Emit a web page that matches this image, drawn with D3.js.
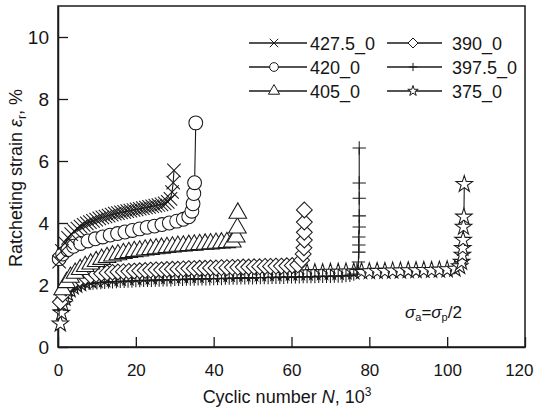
<!DOCTYPE html>
<html>
<head>
<meta charset="utf-8">
<script src="https://cdn.jsdelivr.net/npm/d3@7"></script>
<style>
  body { margin: 0; background: #fff; }
  svg { display: block; }
  text { font-family: "Liberation Sans", Arial, Helvetica, sans-serif; fill: #151515; }
</style>
</head>
<body>
<svg id="chart" width="534" height="407"></svg>
<script>
// Axis ticks
const xTicks = [0, 20, 40, 60, 80, 100, 120];
const yTicks = [0, 2, 4, 6, 8, 10];

// Cyclic number N (10^3) and ratcheting strain (%) for each loading level
const n4275 = [0.3,1.0,1.8,2.6,3.4,4.2,5.0,5.8,6.6,7.4,8.2,9.0,9.8,10.6,11.4,12.2,13.0,13.8,14.6,15.4,
  16.2,17.0,17.8,18.6,19.4,20.2,21.0,21.8,22.6,23.4,24.2,25.0,25.8,26.6,27.4,28.2,28.9,29.3,29.6,29.8];
const e4275 = [2.75,3.1,3.35,3.52,3.64,3.74,3.82,3.88,3.94,3.99,4.03,4.07,4.11,4.15,4.18,4.21,4.24,4.27,4.3,4.32,
  4.34,4.36,4.38,4.4,4.42,4.44,4.46,4.48,4.5,4.52,4.54,4.56,4.58,4.6,4.63,4.68,4.78,5.0,5.3,5.7];

const n420 = [0.3,1.2,2.5,4.0,5.8,7.7,9.6,11.5,13.4,15.3,17.2,19.1,21.0,22.9,24.8,26.7,28.6,30.5,32.2,33.6,
  34.4,34.7,34.9,35.1,35.4];
const e420 = [2.85,3.0,3.14,3.25,3.34,3.42,3.49,3.55,3.61,3.66,3.71,3.76,3.81,3.86,3.9,3.95,4.0,4.06,4.12,4.2,
  4.38,4.62,4.95,5.3,7.23];

const n405 = [1.2,2.2,3.2,4.4,5.7,7.0,8.4,9.8,11.2,12.6,14.0,15.4,16.8,18.2,19.6,21.0,22.4,23.8,25.2,26.6,
  28.0,29.4,30.8,32.2,33.6,35.0,36.4,37.8,39.2,40.6,42.0,43.4,44.8,45.8,46.1,46.2];
const e405 = [1.85,2.08,2.25,2.38,2.5,2.6,2.68,2.76,2.83,2.89,2.94,2.98,3.02,3.05,3.08,3.1,3.13,3.15,3.17,3.19,
  3.21,3.23,3.25,3.26,3.28,3.29,3.31,3.32,3.33,3.35,3.36,3.37,3.39,3.55,3.84,4.32];

const n390 = [0.6,1.2,2.0,3.0,4.2,5.6,7.0,8.4,9.8,11.2,12.6,14.0,15.4,16.8,18.2,19.6,21.0,22.4,23.8,25.2,
  26.6,28.0,29.4,30.8,32.2,33.6,35.0,36.4,37.8,39.2,40.6,42.0,43.4,44.8,46.2,47.6,49.0,50.4,51.8,53.2,
  54.6,56.0,57.4,58.8,60.2,61.6,62.6,63.0,63.2,63.3,63.3,63.3,63.3];
const e390 = [1.45,1.7,1.9,2.03,2.13,2.2,2.26,2.3,2.34,2.37,2.39,2.41,2.42,2.43,2.44,2.45,2.46,2.47,2.48,2.49,
  2.49,2.5,2.51,2.51,2.52,2.53,2.53,2.54,2.54,2.55,2.55,2.56,2.56,2.57,2.57,2.58,2.58,2.59,2.59,2.6,
  2.6,2.61,2.61,2.62,2.63,2.65,2.8,3.0,3.2,3.45,3.7,4.03,4.42];

const n3975 = [0.3,0.6,1.0,1.5,2.0,2.6,3.3,4.0,5.0,6.0,7.0,8.0,9.0,10.0,11,12,13,14,15,16,
  17,18,19,20,21,22,23,24,25,26,27,28,29,30,31,32,33,34,35,36,
  37,38,39,40,41,42,43,44,45,46,47,48,49,50,51,52,53,54,55,56,
  57,58,59,60,61,62,63,64,65,66,67,68,69,70,71,72,73,74,75,76,
  76.8,77.2,77.3,77.3,77.3,77.4,77.4,77.4,77.4,77.4];
const e3975 = [1.2,1.42,1.58,1.7,1.78,1.85,1.9,1.94,1.98,2.01,2.03,2.05,2.06,2.07,2.08,2.09,2.1,2.1,2.11,2.12,
  2.12,2.13,2.13,2.14,2.14,2.15,2.15,2.15,2.16,2.16,2.17,2.17,2.17,2.18,2.18,2.18,2.19,2.19,2.19,2.2,
  2.2,2.2,2.2,2.21,2.21,2.21,2.22,2.22,2.22,2.22,2.23,2.23,2.23,2.23,2.24,2.24,2.24,2.24,2.25,2.25,
  2.25,2.25,2.26,2.26,2.26,2.26,2.27,2.27,2.27,2.27,2.28,2.28,2.28,2.28,2.29,2.29,2.29,2.3,2.31,2.35,
  2.5,2.74,3.06,3.29,3.55,3.87,4.23,4.8,5.29,6.42];

const n375 = [0.6,0.9,1.3,1.8,2.4,3.1,3.9,4.8,5.8,7.0,8.4,10,12,14,16,18,20,22,24,26,
  28,30,32,34,36,38,40,42,44,46,48,50,52,54,56,58,60,62,64,66,
  68,70,72,74,76,78,80,82,84,86,88,90,92,94,96,98,100,102,
  103.2,103.7,103.9,104.0,104.1,104.2,104.3,104.4];
const e375 = [0.75,1.1,1.38,1.58,1.73,1.85,1.94,2.0,2.05,2.1,2.14,2.16,2.18,2.2,2.22,2.24,2.25,2.26,2.27,2.28,
  2.29,2.3,2.31,2.32,2.32,2.33,2.34,2.34,2.35,2.36,2.36,2.37,2.37,2.38,2.38,2.39,2.39,2.4,2.4,2.41,
  2.41,2.42,2.42,2.43,2.43,2.44,2.44,2.45,2.45,2.46,2.46,2.47,2.47,2.48,2.48,2.49,2.5,2.52,
  2.6,2.74,2.97,3.19,3.45,3.87,4.2,5.25];

const series = [
  { label: "375_0",   type: d3.symbolStar,     size: 85,  fill: "#fff", N: n375,  e: e375 },
  { label: "397.5_0", type: d3.symbolPlus,     size: 60,  fill: "none", N: n3975, e: e3975 },
  { label: "390_0",   type: d3.symbolDiamond2, size: 160, fill: "#fff", N: n390,  e: e390 },
  { label: "405_0",   type: d3.symbolTriangle, size: 135, fill: "#fff", N: n405,  e: e405 },
  { label: "420_0",   type: d3.symbolCircle,   size: 150, fill: "#fff", N: n420,  e: e420 },
  { label: "427.5_0", type: d3.symbolTimes,    size: 120, fill: "none", N: n4275, e: e4275 }
];

// Legend arrangement (two columns, three rows)
const legendCols = [["427.5_0", "420_0", "405_0"], ["390_0", "397.5_0", "375_0"]];

const svg = d3.select("#chart");
const ink = "#1a1a1a";

const x = d3.scaleLinear().domain([0, 120]).range([58, 525]);
const y = d3.scaleLinear().domain([0, 11]).range([347, 6]);

// Frame
svg.append("rect")
  .attr("x", x(0)).attr("y", y(11))
  .attr("width", x(120) - x(0)).attr("height", y(0) - y(11))
  .attr("fill", "none").attr("stroke", ink).attr("stroke-width", 1.5);

// Axes with inward ticks
const xAxis = svg.append("g").attr("transform", `translate(0,${y(0)})`)
  .call(d3.axisBottom(x).tickValues(xTicks).tickSizeInner(-10).tickSizeOuter(0).tickPadding(17));
const yAxis = svg.append("g").attr("transform", `translate(${x(0)},0)`)
  .call(d3.axisLeft(y).tickValues(yTicks).tickSizeInner(-10).tickSizeOuter(0).tickPadding(9));
[xAxis, yAxis].forEach(g => {
  g.select(".domain").attr("stroke", ink).attr("stroke-width", 1.5);
  g.selectAll(".tick line").attr("stroke", ink).attr("stroke-width", 1.3);
  g.selectAll(".tick text").attr("fill", "#151515")
    .style("font-family", '"Liberation Sans", Arial, sans-serif');
});
xAxis.selectAll(".tick text").style("font-size", "17px");
// keep the last label inside the canvas
xAxis.selectAll(".tick text").filter(d => d === 120).attr("text-anchor", "end").attr("x", 8);
yAxis.selectAll(".tick text").style("font-size", "19px");

// Series lines (under the markers)
const line = d3.line().x(d => x(d[0])).y(d => y(d[1]));
const plot = svg.append("g");
series.forEach(s => {
  const pts = s.N.map((n, i) => [n, s.e[i]]);
  plot.append("path").datum(pts)
    .attr("d", line).attr("fill", "none")
    .attr("stroke", ink).attr("stroke-width", 1.1);
});

// Markers
series.forEach(s => {
  const path = d3.symbol().type(s.type).size(s.size)();
  plot.append("g").selectAll("path")
    .data(s.N.map((n, i) => [n, s.e[i]]))
    .join("path")
    .attr("d", path)
    .attr("transform", d => `translate(${x(d[0])},${y(d[1])})`)
    .attr("fill", s.fill)
    .attr("stroke", ink).attr("stroke-width", 1.05);
});

// Legend
const legX = [{ x1: 249, xs: 274, x2: 307, xt: 310 }, { x1: 387, xs: 413, x2: 442, xt: 452 }];
const legY = [43, 67, 91];
const legend = svg.append("g");
legendCols.forEach((col, ci) => {
  col.forEach((lab, ri) => {
    const s = series.find(d => d.label === lab);
    const c = legX[ci], yy = legY[ri];
    legend.append("line").attr("x1", c.x1).attr("x2", c.x2).attr("y1", yy).attr("y2", yy)
      .attr("stroke", ink).attr("stroke-width", 1.5);
    legend.append("path")
      .attr("d", d3.symbol().type(s.type).size(s.size * 0.4)())
      .attr("transform", `translate(${c.xs},${yy})`)
      .attr("fill", "#fff").attr("stroke", ink).attr("stroke-width", 1);
    legend.append("text").attr("x", c.xt).attr("y", yy + 6.5)
      .style("font-size", "18px").text(lab);
  });
});

// Axis titles
const xt = svg.append("text").attr("x", 287).attr("y", 403)
  .attr("text-anchor", "middle").style("font-size", "18px");
xt.append("tspan").text("Cyclic number ");
xt.append("tspan").style("font-style", "italic").text("N");
xt.append("tspan").text(", 10");
xt.append("tspan").attr("dy", -7).style("font-size", "12px").text("3");

const yt = svg.append("text")
  .attr("transform", "translate(22,178) rotate(-90)")
  .attr("text-anchor", "middle").style("font-size", "18px");
yt.append("tspan").text("Ratcheting strain ");
yt.append("tspan").style("font-style", "italic").text("ε");
yt.append("tspan").attr("dy", 4).style("font-size", "12px").text("r");
yt.append("tspan").attr("dy", -4).text(", %");

// Loading condition note
const note = svg.append("text").attr("x", 405).attr("y", 318).style("font-size", "17px");
note.append("tspan").style("font-style", "italic").text("σ");
note.append("tspan").attr("dy", 3).style("font-size", "11px").text("a");
note.append("tspan").attr("dy", -3).text("=");
note.append("tspan").style("font-style", "italic").text("σ");
note.append("tspan").attr("dy", 3).style("font-size", "11px").text("p");
note.append("tspan").attr("dy", -3).text("/2");
</script>
</body>
</html>
